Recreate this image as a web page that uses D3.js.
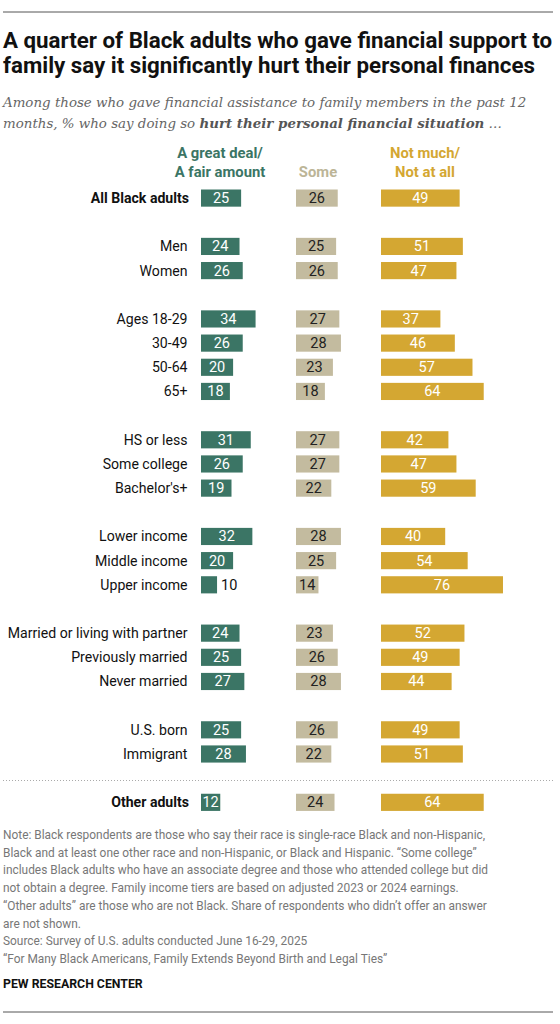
<!DOCTYPE html>
<html>
<head>
<meta charset="utf-8">
<script src="https://cdn.jsdelivr.net/npm/d3@7"></script>
<style>
  body { margin: 0; background: #fff; }
  svg text { font-family: Roboto, "Noto Sans", sans-serif; }
</style>
</head>
<body>
<div id="chart"></div>
<script>
// slot = row index, blanks between groups
const labels = ["All Black adults", "Men", "Women", "Ages 18-29", "30-49", "50-64", "65+",
  "HS or less", "Some college", "Bachelor's+", "Lower income", "Middle income", "Upper income",
  "Married or living with partner", "Previously married", "Never married",
  "U.S. born", "Immigrant", "Other adults"];
const slots = [0, 2, 3, 5, 6, 7, 8, 10, 11, 12, 14, 15, 16, 18, 19, 20, 22, 23, 25];
const boldRows = ["All Black adults", "Other adults"];

const greatDeal = [25, 24, 26, 34, 26, 20, 18, 31, 26, 19, 32, 20, 10, 24, 25, 27, 25, 28, 12];
const some      = [26, 25, 26, 27, 28, 23, 18, 27, 27, 22, 28, 25, 14, 23, 26, 28, 26, 22, 24];
const notMuch   = [49, 51, 47, 37, 46, 57, 64, 42, 47, 59, 40, 54, 76, 52, 49, 44, 49, 51, 64];

const seriesNames = [["A great deal/", "A fair amount"], ["Some"], ["Not much/", "Not at all"]];
const seriesColors = ["#3b7565", "#c3bb9f", "#d4a732"];
const headColors = ["#3b7565", "#bcb597", "#d4a732"];
const textColors = ["#fff", "#222", "#fff"];

const noteLines = [
  "Note: Black respondents are those who say their race is single-race Black and non-Hispanic,",
  "Black and at least one other race and non-Hispanic, or Black and Hispanic. \u201cSome college\u201d",
  "includes Black adults who have an associate degree and those who attended college but did",
  "not obtain a degree. Family income tiers are based on adjusted 2023 or 2024 earnings.",
  "\u201cOther adults\u201d are those who are not Black. Share of respondents who didn\u2019t offer an answer",
  "are not shown.",
  "Source: Survey of U.S. adults conducted June 16-29, 2025",
  "\u201cFor Many Black Americans, Family Extends Beyond Birth and Legal Ties\u201d"
];

const W = 560, H = 1024;
const svg = d3.select("#chart").append("svg")
  .attr("width", W)
  .attr("height", H);

// rules top and bottom
svg.append("line").attr("x1", 3).attr("x2", 553).attr("y1", 12).attr("y2", 12)
  .attr("stroke", "#555").attr("stroke-width", 1);
svg.append("line").attr("x1", 3).attr("x2", 553).attr("y1", 1012).attr("y2", 1012)
  .attr("stroke", "#555").attr("stroke-width", 1);

// title
const title = ["A quarter of Black adults who gave financial support to",
  "family say it significantly hurt their personal finances"];
title.forEach((t, i) => {
  svg.append("text")
    .attr("x", 3).attr("y", 48 + i * 25)
    .attr("font-size", "22.3px").attr("font-weight", "bold")
    .attr("fill", "#111")
    .text(t);
});

// subtitle
const subFont = "'DejaVu Serif', Georgia, serif";
svg.append("text").attr("x", 3).attr("y", 107)
  .attr("font-size", "13.4px").attr("font-style", "italic").attr("fill", "#666")
  .style("font-family", subFont)
  .text("Among those who gave financial assistance to family members in the past 12");
const sub2 = svg.append("text").attr("x", 3).attr("y", 128)
  .attr("font-size", "13.4px").attr("font-style", "italic").attr("fill", "#666")
  .style("font-family", subFont);
sub2.append("tspan").text("months, % who say doing so ");
sub2.append("tspan").attr("font-weight", "bold").attr("fill", "#555").text("hurt their personal financial situation");
sub2.append("tspan").text(" \u2026");

// scales
const y = d3.scaleBand()
  .domain(d3.range(26))
  .range([186, 186 + 26 * 24.17])
  .paddingInner(0.29)
  .paddingOuter(0.145);

const x = d3.scaleLinear().domain([0, 100]).range([0, 160.5]);
const colStart = [201, 296, 381];
const colCenter = [220, 318, 425];

// column headers
seriesNames.forEach((lines, k) => {
  const n = lines.length;
  lines.forEach((l, j) => {
    svg.append("text")
      .attr("x", colCenter[k])
      .attr("y", 177 - (n - 1 - j) * 19)
      .attr("text-anchor", "middle")
      .attr("font-size", "14.8px").attr("font-weight", "bold")
      .attr("fill", headColors[k])
      .text(l);
  });
});

// row labels
labels.forEach((l, i) => {
  const bold = boldRows.includes(l);
  svg.append("text")
    .attr("x", bold ? 189 : 187.5)
    .attr("y", y(slots[i]) + y.bandwidth() / 2 + 5)
    .attr("text-anchor", "end")
    .attr("font-size", "14.1px")
    .attr("font-weight", bold ? "bold" : "normal")
    .attr("fill", "#111")
    .text(l);
});

// bars
[greatDeal, some, notMuch].forEach((vals, k) => {
  const g = svg.append("g").attr("transform", "translate(" + colStart[k] + ",0)");
  g.selectAll("rect").data(vals).join("rect")
    .attr("x", 0)
    .attr("y", (d, i) => y(slots[i]))
    .attr("width", d => x(d))
    .attr("height", y.bandwidth())
    .attr("fill", seriesColors[k]);
  g.selectAll("text").data(vals).join("text")
    .attr("x", d => x(d) < 18 ? x(d) + 4 : x(d) / 2)
    .attr("y", (d, i) => y(slots[i]) + y.bandwidth() / 2 + 5)
    .attr("text-anchor", d => x(d) < 18 ? "start" : "middle")
    .attr("font-size", "14.5px")
    .attr("fill", d => x(d) < 18 ? "#111" : textColors[k])
    .text(d => d);
});

// dotted divider before "Other adults"
svg.append("line").attr("x1", 3).attr("x2", 553).attr("y1", 780.5).attr("y2", 780.5)
  .attr("stroke", "#aaa").attr("stroke-width", 1).attr("stroke-dasharray", "1,2");

// notes
noteLines.forEach((l, i) => {
  svg.append("text")
    .attr("x", 3).attr("y", 839 + i * 17.7)
    .attr("font-size", "11.9px")
    .attr("fill", "#777")
    .text(l);
});

svg.append("text")
  .attr("x", 3).attr("y", 988)
  .attr("font-size", "12.3px").attr("font-weight", "bold")
  .attr("fill", "#111")
  .text("PEW RESEARCH CENTER");
</script>
</body>
</html>
